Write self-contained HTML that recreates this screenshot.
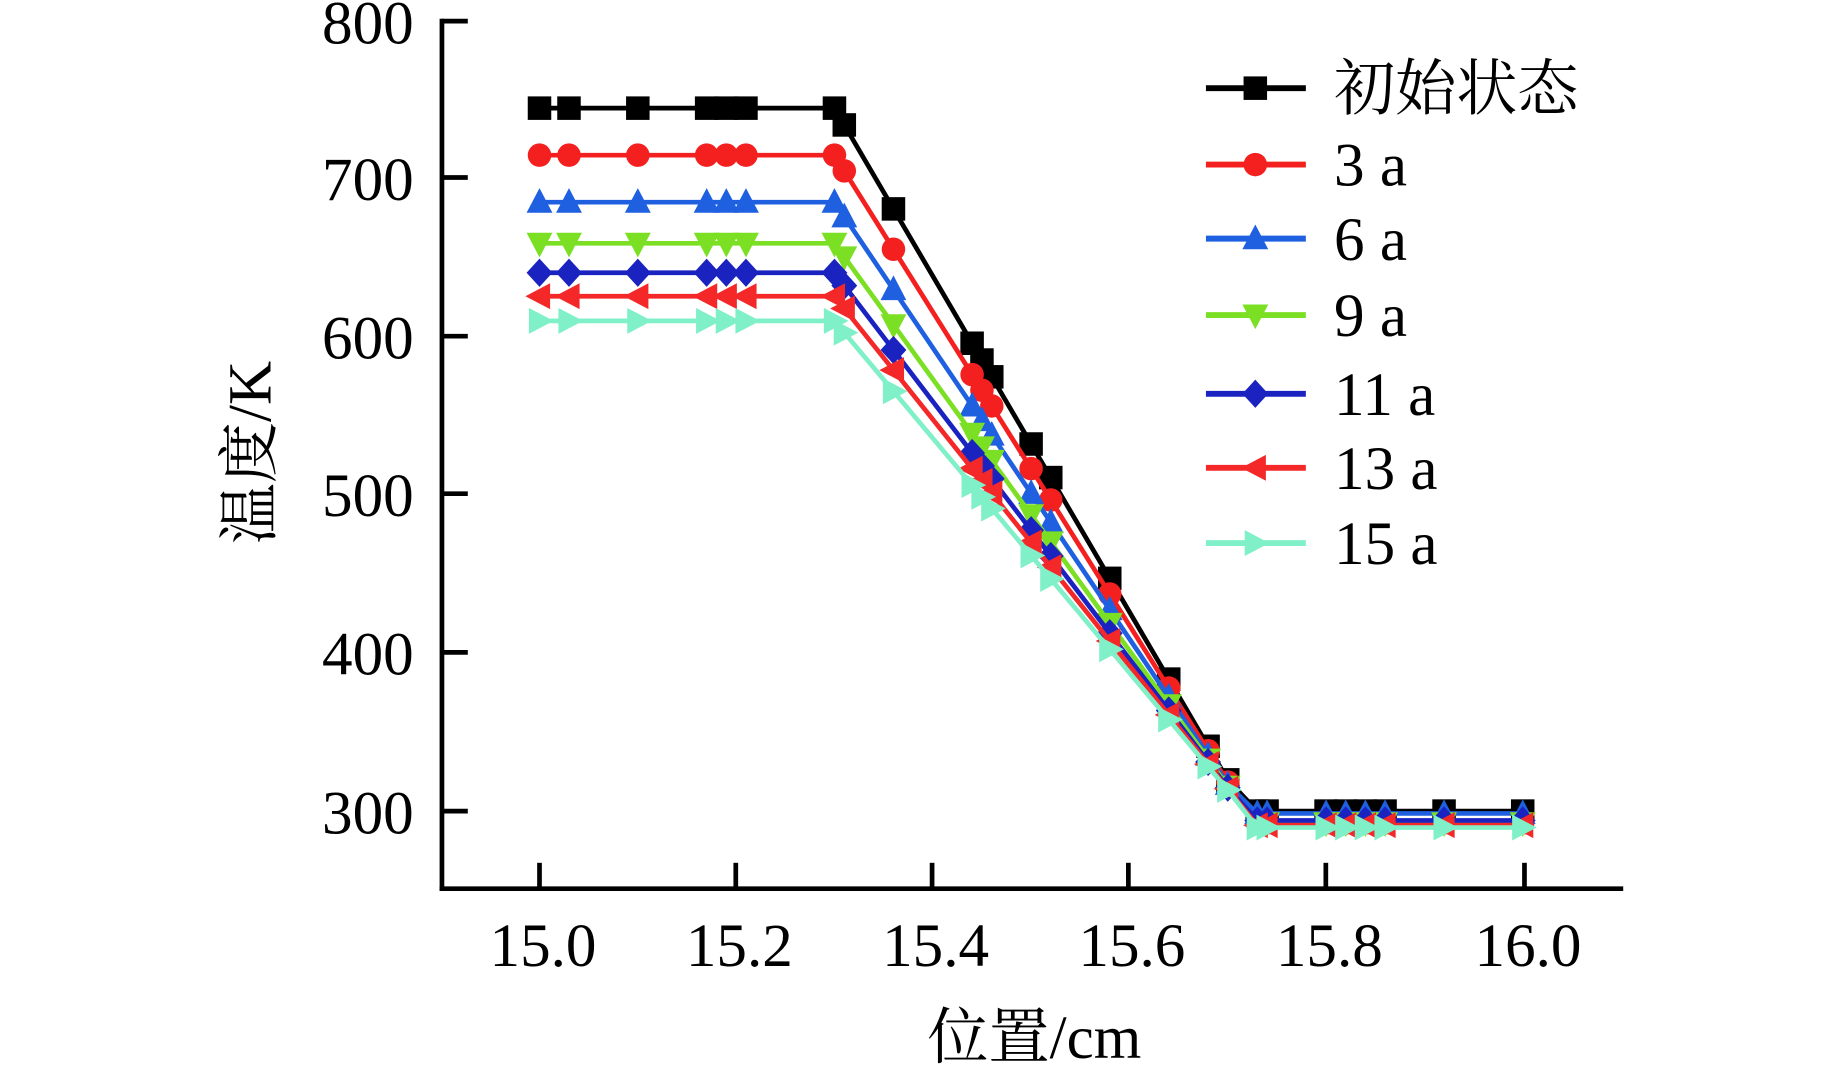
<!DOCTYPE html>
<html><head><meta charset="utf-8"><style>
html,body{margin:0;padding:0;background:#fff}
svg{display:block}
text{font-family:"Liberation Serif","Noto Serif CJK SC",serif;fill:#000}
</style></head><body>
<svg id="s" width="1843" height="1065" viewBox="0 0 1568 906" preserveAspectRatio="none" xmlns="http://www.w3.org/2000/svg">
<g stroke="#000" stroke-width="4" fill="none">
<line x1="376" y1="16" x2="376" y2="758"/>
<line x1="374" y1="756" x2="1381" y2="756"/>
<line x1="376" y1="18" x2="398" y2="18"/>
<line x1="376" y1="151" x2="398" y2="151"/>
<line x1="376" y1="286" x2="398" y2="286"/>
<line x1="376" y1="420" x2="398" y2="420"/>
<line x1="376" y1="555" x2="398" y2="555"/>
<line x1="376" y1="690" x2="398" y2="690"/>
<line x1="459" y1="756" x2="459" y2="734"/>
<line x1="626" y1="756" x2="626" y2="734"/>
<line x1="793" y1="756" x2="793" y2="734"/>
<line x1="960" y1="756" x2="960" y2="734"/>
<line x1="1128" y1="756" x2="1128" y2="734"/>
<line x1="1297" y1="756" x2="1297" y2="734"/>
</g>
<g font-size="52" text-anchor="end">
<text x="352" y="37">800</text><text x="352" y="170">700</text><text x="352" y="305">600</text>
<text x="352" y="439">500</text><text x="352" y="574">400</text><text x="352" y="709">300</text>
</g>
<g font-size="52" text-anchor="middle">
<text x="462" y="822">15.0</text><text x="629" y="822">15.2</text><text x="796" y="822">15.4</text>
<text x="963" y="822">15.6</text><text x="1131" y="822">15.8</text><text x="1300" y="822">16.0</text>
<text x="880" y="900">位置/cm</text>
<text transform="translate(230,385) rotate(-90)">温度/K</text>
</g>
<g id="series"></g>
<g id="legend" font-size="52"></g>
</svg>
<script>
var NS="http://www.w3.org/2000/svg";
function X(v){return 459+(v-15)*836.5;}
var xs=[15.0,15.03,15.1,15.17,15.19,15.21,15.3,15.31,15.36,15.44,15.45,15.46,15.5,15.52,15.58,15.64,15.68,15.7,15.73,15.74,15.8,15.82,15.84,15.86,15.92,16.0];
var S=[
 {c:"#000000",m:"sq",f:92,e:690,n:"初始状态"},
 {c:"#f42020",m:"ci",f:132,e:700,n:"3 a"},
 {c:"#1e60e0",m:"up",f:172,e:692,n:"6 a"},
 {c:"#7be024",m:"dn",f:207,e:700,n:"9 a"},
 {c:"#1a22c0",m:"di",f:232,e:698,n:"11 a"},
 {c:"#f42828",m:"lt",f:252,e:702,n:"13 a"},
 {c:"#80f0c8",m:"rt",f:273,e:704,n:"15 a"}];
function el(t,a,p){var e=document.createElementNS(NS,t);for(var k in a)e.setAttribute(k,a[k]);p.appendChild(e);return e;}
function marker(m,x,y,c,p){var r=10;
 if(m=="sq")el("rect",{x:x-r,y:y-r,width:2*r,height:2*r,fill:c},p);
 else if(m=="ci")el("circle",{cx:x,cy:y,r:r,fill:c},p);
 else{var pts;
  if(m=="up")pts=[[x,y-r-2],[x+r+1,y+r-1],[x-r-1,y+r-1]];
  if(m=="dn")pts=[[x,y+r+2],[x+r+1,y-r+1],[x-r-1,y-r+1]];
  if(m=="di")pts=[[x,y-r-2],[x+r+1,y],[x,y+r+2],[x-r-1,y]];
  if(m=="lt")pts=[[x-r-2,y],[x+r-1,y-r-1],[x+r-1,y+r+1]];
  if(m=="rt")pts=[[x+r+2,y],[x-r+1,y-r-1],[x-r+1,y+r+1]];
  el("polygon",{points:pts.map(function(q){return q.join(",")}).join(" "),fill:c},p);}
}
var g=document.getElementById("series");
S.forEach(function(s){
 var pts=xs.map(function(v){var y;
  if(v<=15.3)y=s.f;
  else if(v<=15.72)y=s.f+(v-15.3)/0.42*(692-s.f);
  else y=s.e;
  return [X(v),y];});
 el("polyline",{points:pts.map(function(q){return q.join(",")}).join(" "),fill:"none",stroke:s.c,"stroke-width":4},g);
 pts.forEach(function(q){marker(s.m,q[0],q[1],s.c,g);});
});
var L=document.getElementById("legend");var ly=[75,140,203,268,335,398,462];
S.forEach(function(s,i){
 el("line",{x1:1026,y1:ly[i],x2:1111,y2:ly[i],stroke:s.c,"stroke-width":5},L);
 marker(s.m,1068,ly[i],s.c,L);
 var t=el("text",{x:1135,y:ly[i]+18},L);t.textContent=s.n;
});
</script>
</body></html>
